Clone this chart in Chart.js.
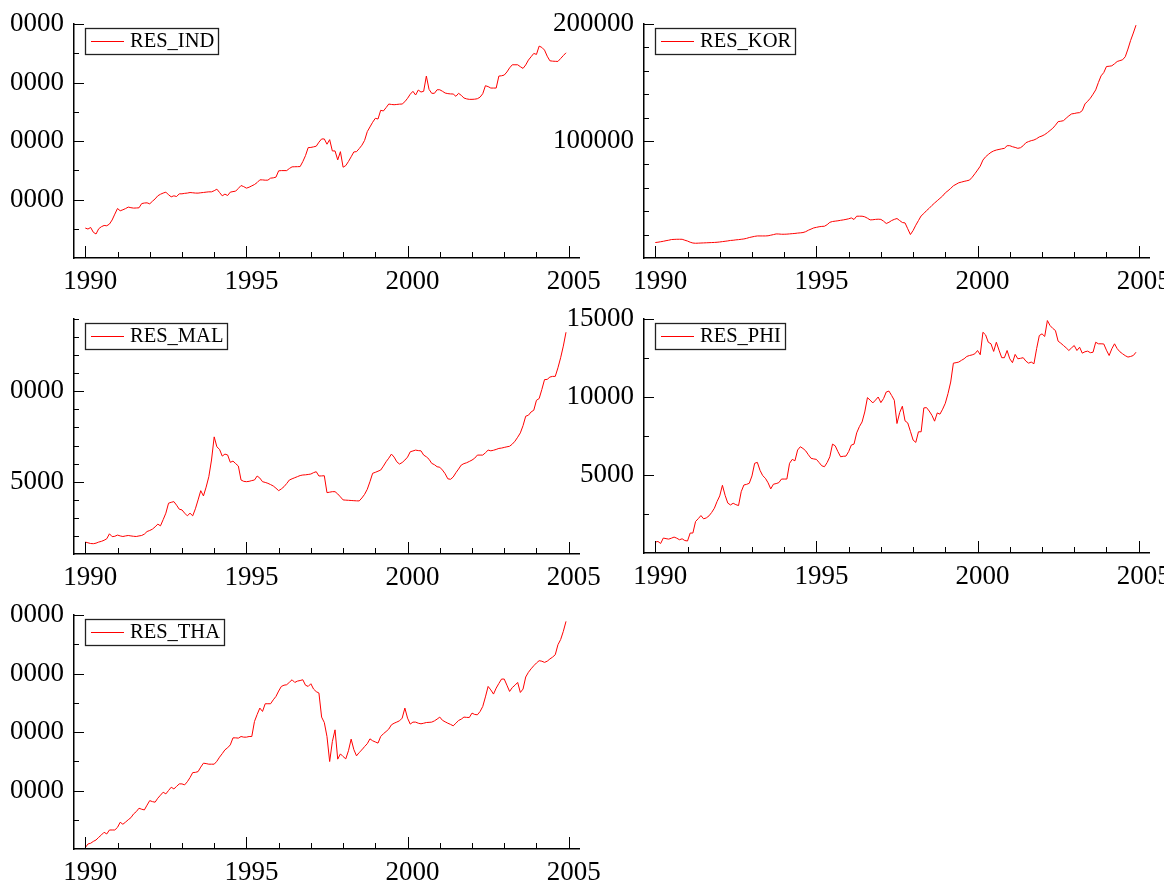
<!DOCTYPE html>
<html lang="en">
<head>
<meta charset="UTF-8">
<title>Reserves 1990-2004</title>
<script src="https://cdn.jsdelivr.net/npm/chart.js@4.4.1/dist/chart.umd.min.js"></script>
<style>
  html, body { margin: 0; padding: 0; background: #fff; overflow: hidden; }
  #page { position: relative; width: 1176px; height: 891px; overflow: hidden; background: #fff; }
  #page canvas { position: absolute; }
</style>
</head>
<body>
<div id="page"></div>
<script>
// monthly series, Jan 1990 .. Dec 2004 (one row per year)
const startYear = 1990;
const yearTicks = [1990, 1995, 2000, 2005];
const yearMinor = [1990, 1991, 1992, 1993, 1994, 1995, 1996, 1997, 1998, 1999, 2000, 2001, 2002, 2003, 2004, 2005];

const resInd = [
  5120, 4950, 5220, 4400, 4100, 5000, 5350, 5560, 5510, 5800, 6500, 7500,
  8460, 8070, 8240, 8450, 8700, 8600, 8530, 8550, 8580, 9300, 9400, 9430,
  9260, 9700, 10100, 10630, 10900, 11100, 11260, 10800, 10460, 10630, 10510, 10970,
  10970, 11050, 11100, 11190, 11150, 11100, 11090, 11150, 11200, 11260, 11310, 11310,
  11500, 11770, 11200, 10630, 10920, 10680, 11260, 11350, 11430, 11900, 12390, 12200,
  11940, 12100, 12330, 12560, 12900, 13360, 13350, 13300, 13310, 13650, 13700, 13820,
  14900, 14940, 14940, 14940, 15300, 15580, 15600, 15610, 15630, 16480, 17500, 18870,
  18900, 19000, 19110, 19800, 20350, 20350, 19450, 20230, 18300, 18300, 16770, 18180,
  15520, 15800, 16500, 17300, 18130, 18180, 18700, 19280, 20100, 21600, 22400, 23200,
  23880, 23760, 25250, 25130, 25700, 26320, 26250, 26200, 26250, 26300, 26320, 26720,
  27300, 28000, 28490, 27860, 28710, 28370, 28500, 31100, 28830, 28150, 28150, 28760,
  28760, 28500, 28200, 28100, 28050, 28030, 27640, 28150, 27800, 27350, 27200, 27120,
  27120, 27150, 27230, 27500, 28080, 29450, 29300, 29050, 29050, 29050, 31100, 31150,
  31270, 31800, 32500, 33030, 33030, 33030, 32700, 32410, 33000, 33830, 34400, 34970,
  34800, 36220, 36000, 35540, 34500, 33710, 33650, 33620, 33600, 34100, 34600, 35080
];

const resKor = [
  13200, 13500, 13900, 14300, 14800, 15200, 15770, 15900, 16000, 16020, 16000, 15200,
  14500, 13500, 12800, 12600, 12700, 12800, 12900, 13000, 13100, 13200, 13300, 13450,
  13700, 14000, 14300, 14600, 15000, 15170, 15500, 15700, 16000, 16280, 16800, 17500,
  18000, 18500, 18850, 18850, 18850, 18850, 19000, 19500, 20000, 20570, 20500, 20310,
  20310, 20400, 20600, 20800, 21000, 21300, 21500, 21760, 22500, 23740, 24700, 25710,
  26200, 26700, 27000, 27160, 28500, 30500, 31190, 31500, 31800, 32200, 32560, 33000,
  33500, 34280, 32900, 35730, 35730, 35730, 35200, 34000, 32560, 32700, 33000, 33160,
  33000, 31500, 29480, 30500, 32000, 33000, 33760, 32000, 30330, 29990, 25000, 20050,
  23500, 28020, 32000, 36000, 38040, 40500, 42500, 44900, 47000, 49000, 51000, 53000,
  55700, 57500, 59500, 61700, 63000, 64300, 64870, 65500, 66000, 66580, 69000, 72000,
  75150, 78500, 83720, 86500, 88500, 90300, 91500, 92290, 92800, 93300, 93750, 95980,
  96000, 95120, 94500, 93750, 94260, 96000, 98540, 99500, 100300, 100860, 102000, 103500,
  104290, 105500, 107110, 109000, 110880, 113500, 116540, 116900, 117400, 119500, 121500, 123140,
  123500, 124000, 124250, 126000, 131700, 134000, 136590, 140000, 143700, 150000, 155700, 158500,
  163670, 163900, 164270, 166000, 167950, 168700, 169410, 172000, 178580, 186000, 192290, 199000
];

const resMal = [
  8300, 8100, 7900, 7850, 8000, 8300, 8500, 8800, 9210, 10590, 9800, 9900,
  10230, 10000, 9840, 10000, 10120, 10000, 9900, 9840, 10000, 10120, 10500, 11220,
  11500, 11880, 12500, 13260, 12790, 14500, 16290, 19050, 19300, 19490, 18500, 17390,
  17200, 16300, 15550, 16290, 15550, 17500, 19960, 22520, 21060, 23500, 26380, 31000,
  37400, 34650, 33930, 32080, 32630, 32400, 30350, 30700, 30000, 29330, 25470, 25100,
  25000, 25100, 25300, 25470, 26570, 26000, 25000, 24800, 24550, 24200, 23810, 23200,
  22520, 23000, 23620, 24500, 25470, 25800, 26100, 26400, 26700, 26850, 26900, 27000,
  27120, 27500, 27760, 26570, 26600, 26650, 21970, 22100, 22240, 22240, 21610, 20800,
  19960, 19900, 19850, 19800, 19750, 19700, 19680, 20500, 21500, 22900, 25000, 27320,
  27590, 27900, 28220, 29300, 30510, 31500, 32630, 31800, 30500, 29880, 30300, 30980,
  31800, 33270, 33500, 33740, 33600, 33540, 32360, 31890, 31200, 30070, 29700, 29130,
  29000, 28220, 27200, 25800, 25660, 26300, 27480, 28500, 29600, 30000, 30240, 30600,
  30980, 31500, 32360, 32360, 32360, 33000, 33740, 33540, 33700, 33930, 34200, 34300,
  34480, 34650, 34800, 35390, 36200, 37300, 38500, 40500, 43110, 43380, 44290, 44760,
  47520, 47990, 50500, 53230, 53300, 53940, 54130, 54130, 56500, 59280, 62500, 66340
];

const resPhi = [
  700, 740, 610, 960, 920, 890, 950, 1020, 950, 850, 910, 800,
  770, 1280, 1280, 2020, 2200, 2400, 2190, 2250, 2380, 2600, 2870, 3300,
  3660, 4340, 3700, 3200, 3080, 3190, 3100, 3040, 3930, 4360, 4400, 4470,
  4940, 5750, 5810, 5300, 4960, 4790, 4500, 4110, 4410, 4450, 4510, 4740,
  4740, 4740, 5750, 6000, 5910, 6600, 6810, 6700, 6550, 6300, 6070, 6030,
  6000, 5800, 5590, 5530, 5800, 6170, 6980, 6870, 6500, 6170, 6200, 6210,
  6500, 6920, 6980, 7700, 8100, 8400, 9040, 9960, 9800, 9620, 9800, 10000,
  9640, 9900, 10320, 10380, 10100, 9790, 8300, 9000, 9410, 8470, 8340, 7800,
  7240, 7090, 7770, 7770, 9300, 9320, 9100, 8830, 8450, 8980, 8900, 9220,
  9600, 10220, 10960, 12170, 12200, 12240, 12350, 12450, 12600, 12660, 12700, 12770,
  12980, 12710, 14150, 13980, 13510, 13410, 12920, 13510, 13000, 12520, 12520, 12980,
  12450, 12200, 12730, 12450, 12480, 12520, 12300, 12170, 12240, 12130, 13100, 13940,
  14050, 13880, 14900, 14580, 14400, 14260, 13580, 13450, 13300, 13150, 12980, 13150,
  13300, 12980, 13190, 12810, 12900, 12940, 12840, 12870, 13510, 13410, 13410, 13400,
  13000, 12660, 13090, 13410, 13100, 12900, 12770, 12650, 12560, 12600, 12660, 12870
];

const resTha = [
  10220, 10860, 10980, 11300, 11540, 12000, 12400, 12860, 12570, 13250, 13250, 13250,
  13700, 14570, 14230, 14600, 15000, 15360, 16000, 16390, 16970, 16800, 16680, 17500,
  18270, 18100, 18000, 18680, 19200, 19710, 19420, 20000, 20560, 20270, 20700, 21130,
  21130, 20960, 21500, 22210, 23060, 23100, 23230, 24000, 24670, 24600, 24500, 24500,
  24500, 25000, 25700, 26300, 26950, 27300, 27800, 29000, 29000, 28950, 29230, 29120,
  29120, 29230, 29230, 31800, 33000, 34090, 33510, 34830, 34830, 34830, 35500, 36080,
  37000, 37790, 38000, 38080, 38500, 38930, 38470, 38700, 38800, 38930, 38000, 37790,
  38250, 37340, 36900, 36660, 32550, 31620, 29230, 24950, 28370, 30370, 25360, 26260,
  25800, 25410, 26800, 28780, 27000, 25920, 26500, 26950, 27510, 28000, 28830, 28500,
  28300, 28100, 29230, 29700, 30080, 30500, 31230, 31500, 31700, 31910, 32370, 34090,
  32370, 31350, 31690, 31690, 31500, 31400, 31500, 31620, 31650, 31690, 31900, 32200,
  32550, 32000, 31740, 31500, 31300, 31060, 31500, 31970, 32200, 32550, 32500, 32480,
  33230, 33000, 32940, 33500, 34360, 36000, 37790, 37200, 36480, 37500, 38300, 39050,
  39050, 38000, 36930, 37600, 38000, 38470, 36760, 37340, 39400, 40200, 40800, 41330,
  41800, 42190, 42100, 41900, 42100, 42480, 42800, 43210, 44920, 45800, 47200, 48910
];

// value-axis ticks: labelled and unlabelled
const indTicks = [10000, 20000, 30000, 40000];
const indMinor = [5000, 15000, 25000, 35000];
const korTicks = [100000, 200000];
const korMinor = [20000, 40000, 60000, 80000, 120000, 140000, 160000, 180000];
const malTicks = [25000, 50000];
const malMinor = [10000, 15000, 20000, 30000, 35000, 40000, 45000, 55000, 60000, 65000, 70000];
const phiTicks = [5000, 10000, 15000];
const phiMinor = [2500, 7500, 12500];
const thaTicks = [20000, 30000, 40000, 50000];
const thaMinor = [15000, 25000, 35000, 45000];

Chart.defaults.font.family = "'Liberation Serif', 'Times New Roman', serif";
Chart.defaults.color = '#000';

// plot area of each panel in page pixels: left, top, right, bottom
const panels = [
  { label: 'RES_IND', values: resInd, ticks: indTicks, minor: indMinor, min: 0, max: 40000, area: [74, 24, 579, 258], yw: 64, canvasRight: 620 },
  { label: 'RES_KOR', values: resKor, ticks: korTicks, minor: korMinor, min: 0, max: 200000, area: [644, 24, 1149, 258], yw: 104, canvasRight: 1164 },
  { label: 'RES_MAL', values: resMal, ticks: malTicks, minor: malMinor, min: 5000, max: 70000, area: [74, 319, 579, 554], yw: 64, canvasRight: 620 },
  { label: 'RES_PHI', values: resPhi, ticks: phiTicks, minor: phiMinor, min: 0, max: 15000, area: [644, 319, 1149, 553], yw: 104, canvasRight: 1164 },
  { label: 'RES_THA', values: resTha, ticks: thaTicks, minor: thaMinor, min: 10000, max: 50000, area: [74, 615, 579, 849], yw: 64, canvasRight: 620 }
];

const padTop = 30;
const xAxisHeight = 42;

// inward tick marks on both axes
const innerTicks = {
  id: 'innerTicks',
  afterDraw(chart, args, opts) {
    const { ctx, chartArea: a, scales: { x, y } } = chart;
    ctx.save();
    ctx.strokeStyle = '#000';
    ctx.lineWidth = 1;
    ctx.beginPath();
    yearMinor.forEach(v => {
      const px = Math.round(x.getPixelForValue(v)) + 0.5;
      const len = v % 5 === 0 ? 12 : 6;
      ctx.moveTo(px, a.bottom);
      ctx.lineTo(px, a.bottom - len);
    });
    y.ticks.forEach(t => {
      const py = Math.round(y.getPixelForValue(t.value)) + 0.5;
      ctx.moveTo(a.left, py);
      ctx.lineTo(a.left + 10, py);
    });
    opts.minor.forEach(v => {
      const py = Math.round(y.getPixelForValue(v)) + 0.5;
      ctx.moveTo(a.left, py);
      ctx.lineTo(a.left + 5, py);
    });
    ctx.stroke();
    ctx.restore();
  }
};

// framed legend in the upper-left corner of the plot
const boxLegend = {
  id: 'boxLegend',
  afterDraw(chart) {
    const { ctx, chartArea: a } = chart;
    const ds = chart.data.datasets[0];
    ctx.save();
    ctx.font = "20.5px 'Liberation Serif', serif";
    const tw = ctx.measureText(ds.label).width;
    const bx = Math.round(a.left + 11), by = Math.round(a.top + 4);
    const bw = Math.round(45 + tw + 4), bh = 26;
    ctx.fillStyle = '#fff';
    ctx.fillRect(bx, by, bw, bh);
    ctx.strokeStyle = '#222';
    ctx.lineWidth = 1.3;
    ctx.strokeRect(bx + 0.5, by + 0.5, bw, bh);
    ctx.strokeStyle = ds.borderColor;
    ctx.lineWidth = 1;
    ctx.beginPath();
    ctx.moveTo(bx + 6, by + 13.5);
    ctx.lineTo(bx + 39, by + 13.5);
    ctx.stroke();
    ctx.fillStyle = '#000';
    ctx.textBaseline = 'middle';
    ctx.fillText(ds.label, bx + 45, by + 14);
    ctx.restore();
  }
};

const page = document.getElementById('page');

panels.forEach(p => {
  const [l, t, r, b] = p.area;
  const cLeft = l - p.yw;
  const cTop = t - padTop;
  const canvas = document.createElement('canvas');
  canvas.width = p.canvasRight - cLeft;
  canvas.height = (b + xAxisHeight) - cTop;
  canvas.style.left = cLeft + 'px';
  canvas.style.top = cTop + 'px';
  page.appendChild(canvas);

  const points = p.values.map((v, i) => ({ x: startYear + i / 12, y: v }));

  new Chart(canvas, {
    type: 'line',
    data: {
      datasets: [{
        label: p.label,
        data: points,
        borderColor: '#ff0000',
        borderWidth: 1,
        pointRadius: 0,
        tension: 0,
        fill: false
      }]
    },
    options: {
      responsive: false,
      animation: false,
      devicePixelRatio: 1,
      layout: { padding: { top: padTop, right: p.canvasRight - r, bottom: 0, left: 0 } },
      plugins: {
        legend: { display: false },
        tooltip: { enabled: false },
        innerTicks: { minor: p.minor }
      },
      scales: {
        x: {
          type: 'linear',
          min: 1989.65,
          max: 2005.32,
          grid: { display: false, drawTicks: false },
          border: { display: true, color: '#000', width: 1.5 },
          afterBuildTicks: s => { s.ticks = yearTicks.map(v => ({ value: v })); },
          afterFit: s => { s.height = xAxisHeight; s.paddingLeft = 0; s.paddingRight = 0; },
          ticks: {
            autoSkip: false,
            maxRotation: 0,
            padding: 8,
            labelOffset: 5,
            font: { size: 27 },
            color: '#000',
            callback: v => String(v)
          }
        },
        y: {
          type: 'linear',
          min: p.min,
          max: p.max,
          grid: { display: false, drawTicks: false },
          border: { display: true, color: '#000', width: 1.5 },
          afterBuildTicks: s => { s.ticks = p.ticks.map(v => ({ value: v })); },
          afterFit: s => { s.width = p.yw; s.paddingTop = 0; s.paddingBottom = 0; },
          ticks: {
            autoSkip: false,
            padding: 10,
            font: { size: 27 },
            color: '#000',
            callback: v => String(v)
          }
        }
      }
    },
    plugins: [innerTicks, boxLegend]
  });
});
</script>
</body>
</html>
